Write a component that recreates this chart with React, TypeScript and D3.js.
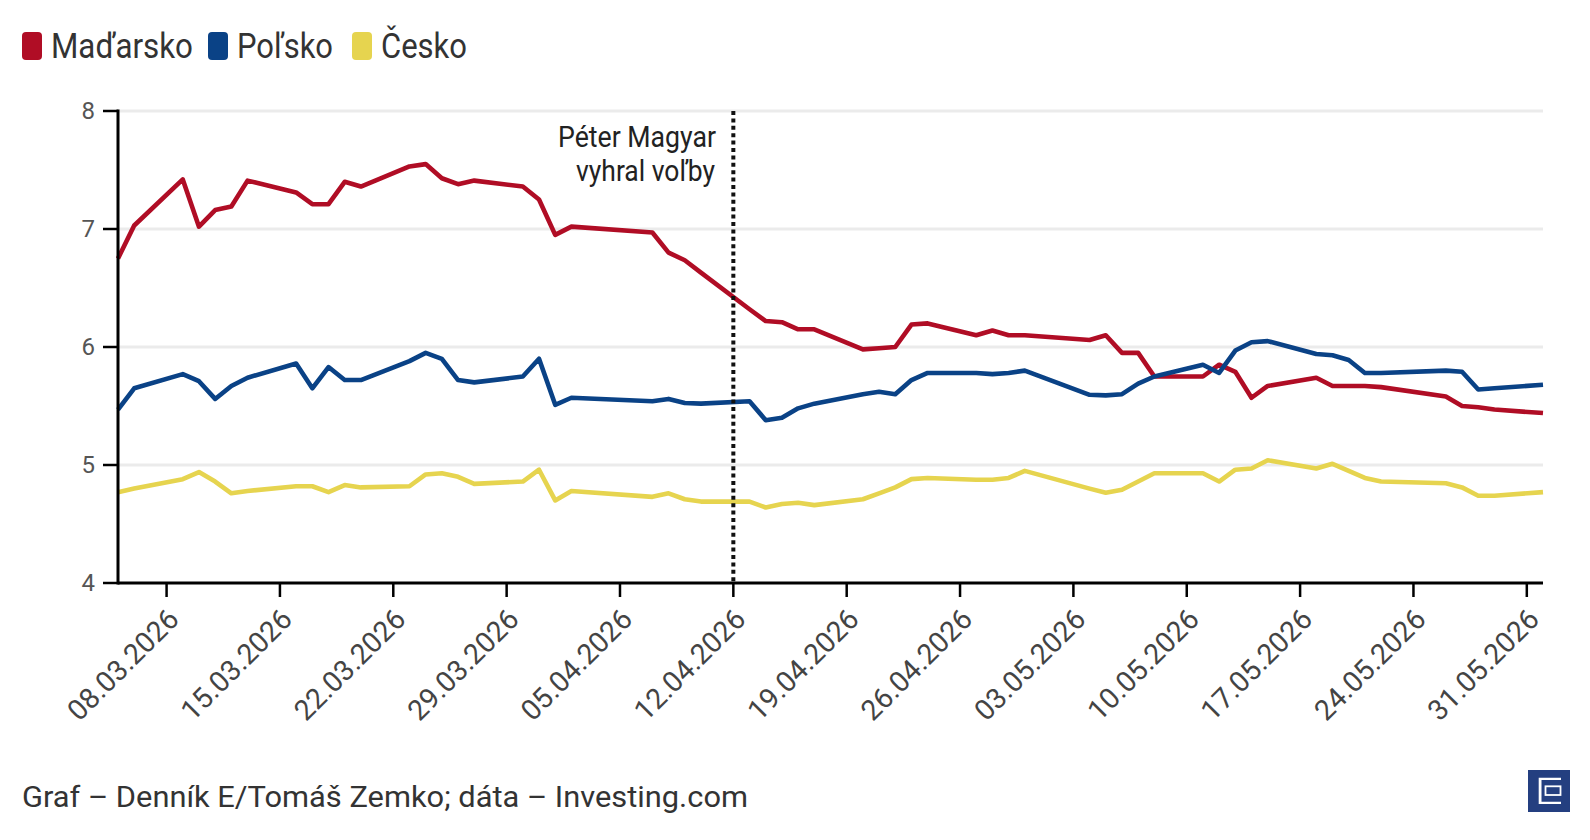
import React from "react";
import * as d3 from "d3";

const dates = [
  "2026-03-05", "2026-03-06", "2026-03-09", "2026-03-10", "2026-03-11", "2026-03-12", "2026-03-13",
  "2026-03-16", "2026-03-17", "2026-03-18", "2026-03-19", "2026-03-20", "2026-03-23", "2026-03-24",
  "2026-03-25", "2026-03-26", "2026-03-27", "2026-03-30", "2026-03-31",
  "2026-04-01", "2026-04-02", "2026-04-07", "2026-04-08", "2026-04-09", "2026-04-10", "2026-04-13",
  "2026-04-14", "2026-04-15", "2026-04-16", "2026-04-17", "2026-04-20", "2026-04-21", "2026-04-22",
  "2026-04-23", "2026-04-24", "2026-04-27", "2026-04-28", "2026-04-29", "2026-04-30",
  "2026-05-04", "2026-05-05", "2026-05-06", "2026-05-07", "2026-05-08", "2026-05-11", "2026-05-12",
  "2026-05-13", "2026-05-14", "2026-05-15", "2026-05-18", "2026-05-19", "2026-05-20", "2026-05-21",
  "2026-05-22", "2026-05-26", "2026-05-27", "2026-05-28", "2026-05-29",
  "2026-06-01",
];

const madarsko = [
  6.75, 7.03, 7.42, 7.02, 7.16, 7.19, 7.41, 7.31, 7.21, 7.21, 7.40, 7.36, 7.53, 7.55, 7.43, 7.38, 7.41, 7.36, 7.25,
  6.95, 7.02, 6.97, 6.80, 6.735, 6.63, 6.32, 6.22, 6.21, 6.15, 6.15, 5.98, 5.99, 6.00, 6.19, 6.20, 6.10, 6.14, 6.10, 6.10,
  6.06, 6.10, 5.95, 5.95, 5.75, 5.75, 5.85, 5.79, 5.57, 5.67, 5.74, 5.67, 5.67, 5.67, 5.66, 5.58, 5.50, 5.49, 5.47,
  5.44,
];

const polsko = [
  5.47, 5.65, 5.77, 5.71, 5.56, 5.67, 5.74, 5.86, 5.65, 5.83, 5.72, 5.72, 5.88, 5.95, 5.90, 5.72, 5.70, 5.75, 5.90,
  5.51, 5.57, 5.54, 5.56, 5.525, 5.52, 5.54, 5.38, 5.40, 5.48, 5.52, 5.60, 5.62, 5.60, 5.72, 5.78, 5.78, 5.77, 5.78, 5.80,
  5.595, 5.59, 5.60, 5.69, 5.75, 5.85, 5.78, 5.97, 6.04, 6.05, 5.94, 5.93, 5.89, 5.78, 5.78, 5.80, 5.79, 5.64, 5.65,
  5.68,
];

const cesko = [
  4.77, 4.80, 4.88, 4.94, 4.86, 4.76, 4.78, 4.82, 4.82, 4.77, 4.83, 4.81, 4.82, 4.92, 4.93, 4.90, 4.84, 4.86, 4.96,
  4.70, 4.78, 4.73, 4.76, 4.71, 4.69, 4.69, 4.64, 4.67, 4.68, 4.66, 4.71, 4.76, 4.81, 4.88, 4.89, 4.875, 4.875, 4.89, 4.95,
  4.80, 4.765, 4.79, 4.86, 4.93, 4.93, 4.86, 4.96, 4.97, 5.04, 4.97, 5.01, 4.95, 4.89, 4.86, 4.845, 4.81, 4.74, 4.74,
  4.77,
];

const yTicks = [4, 5, 6, 7, 8];
const xDomain = ["2026-03-05", "2026-06-01"];
const electionDay = "2026-04-12";

const series = [
  { name: "Maďarsko", values: madarsko, color: "#b00d25", legendX: 22, textLen: 142 },
  { name: "Poľsko", values: polsko, color: "#0a4286", legendX: 208, textLen: 96 },
  { name: "Česko", values: cesko, color: "#e6d44f", legendX: 352, textLen: 86 },
];

const parse = d3.timeParse("%Y-%m-%d");
const fmt = d3.timeFormat("%d.%m.%Y");

export default function App() {
  const W = 1590, H = 840;
  const left = 118, right = 1543, top = 111, bottom = 583;

  const parsed = dates.map((d) => parse(d) as Date);
  const x = d3.scaleTime()
    .domain(xDomain.map((d) => parse(d) as Date))
    .range([left, right]);
  const y = d3.scaleLinear().domain([4, 8]).range([bottom, top]);

  const line = d3.line<number>()
    .x((_, i) => x(parsed[i]))
    .y((d) => y(d));

  const xTicks = d3.timeWeek.range(x.domain()[0], x.domain()[1]);
  const ex = x(parse(electionDay) as Date);
  const font = "Roboto, 'Noto Sans', sans-serif";

  return (
    <svg width={W} height={H} style={{ position: "absolute", left: 0, top: 0, background: "#fff" }} fontFamily={font}>
      {/* legend */}
      {series.map((s) => (
        <g key={s.name}>
          <rect x={s.legendX} y={32} width={20} height={28} rx={4} fill={s.color} />
          <text x={s.legendX + 29} y={58} fontSize={35} fill="#333" textLength={s.textLen} lengthAdjust="spacingAndGlyphs">
            {s.name}
          </text>
        </g>
      ))}

      {/* grid */}
      {yTicks.filter((t) => t > 4).map((t) => (
        <line key={t} x1={left} x2={right} y1={y(t)} y2={y(t)} stroke="#ebebeb" strokeWidth={3} />
      ))}

      {/* series */}
      {series.map((s) => (
        <path key={s.name} d={line(s.values) || ""} fill="none" stroke={s.color} strokeWidth={4.6} strokeLinejoin="round" />
      ))}

      {/* election marker */}
      <line x1={ex} x2={ex} y1={top} y2={bottom} stroke="#111" strokeWidth={4} strokeDasharray="4 3.4" />
      <text x={716} y={147} fontSize={30} fill="#222" textAnchor="end" textLength={158} lengthAdjust="spacingAndGlyphs">Péter Magyar</text>
      <text x={715} y={181} fontSize={30} fill="#222" textAnchor="end" textLength={139} lengthAdjust="spacingAndGlyphs">vyhral voľby</text>

      {/* y axis */}
      <line x1={left} x2={left} y1={top - 1.5} y2={bottom + 1.5} stroke="#000" strokeWidth={3} />
      {yTicks.map((t) => (
        <g key={t}>
          <line x1={left - 15} x2={left} y1={y(t)} y2={y(t)} stroke="#000" strokeWidth={2.5} />
          <text x={95} y={y(t)} dy="0.35em" textAnchor="end" fontSize={24} fill="#555">{t}</text>
        </g>
      ))}

      {/* x axis */}
      <line x1={left} x2={right} y1={bottom} y2={bottom} stroke="#000" strokeWidth={3} />
      {xTicks.map((d) => (
        <g key={+d}>
          <line x1={x(d)} x2={x(d)} y1={bottom} y2={bottom + 14} stroke="#000" strokeWidth={2.5} />
          <text transform={`translate(${x(d) + 14},${bottom + 38}) rotate(-45)`} textAnchor="end" fontSize={28.5} fill="#444">
            {fmt(d)}
          </text>
        </g>
      ))}

      {/* footer */}
      <text x={22} y={807} fontSize={30} fill="#333" textLength={726} lengthAdjust="spacingAndGlyphs">
        Graf – Denník E/Tomáš Zemko; dáta – Investing.com
      </text>
      <g transform="translate(1528,770)">
        <rect width={42} height={42} fill="#243f80" />
        <path d="M33,7.7H10.7V34H33V31.7H13.5V10H33Z" fill="#fff" />
        <rect x={17.5} y={16.3} width={15} height={8.7} fill="none" stroke="#fff" strokeWidth={1.8} />
      </g>
    </svg>
  );
}
